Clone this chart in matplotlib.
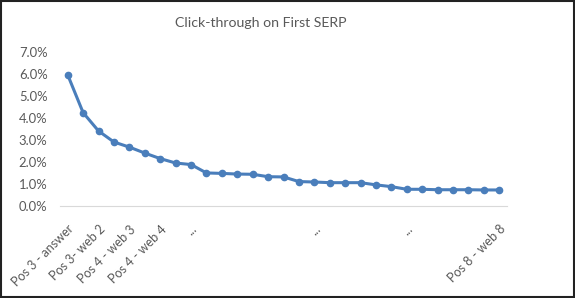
import matplotlib.pyplot as plt
from matplotlib.patches import Rectangle
from matplotlib.ticker import FuncFormatter

# click-through rate per result slot (fraction)
ctr = [0.0595, 0.0424, 0.0341, 0.0291, 0.0268, 0.0241, 0.0216, 0.0196, 0.0189,
       0.0151, 0.0149, 0.0146, 0.0145, 0.0134, 0.0133, 0.0112, 0.0110, 0.0107,
       0.0107, 0.0107, 0.0097, 0.0089, 0.0077, 0.0077, 0.0075, 0.0075, 0.0075,
       0.0074, 0.0074]

etiketler = [""] * len(ctr)
etiketler[0] = "Pos 3 - answer"
etiketler[2] = "Pos 3- web 2"
etiketler[4] = "Pos 4 - web 3"
etiketler[6] = "Pos 4 - web 4"
etiketler[8] = "..."
etiketler[16] = "..."
etiketler[22] = "..."
etiketler[28] = "Pos 8 - web 8"

y_ticks = [0, 0.01, 0.02, 0.03, 0.04, 0.05, 0.06, 0.07]

plt.rcParams['font.family'] = ['Lato', 'DejaVu Sans']
gri = "#595959"

fig = plt.figure(figsize=(5.75, 2.98), dpi=100)
ax = fig.add_axes([60/575, 1-206.3/298, 447/575, 154.6/298])

x = list(range(len(ctr)))
ax.plot(x, ctr, color="#4A7EBB", linewidth=2.2, marker="o", markersize=4.5)

ax.set_xlim(-0.5, len(ctr) - 0.5)
ax.set_ylim(0, 0.07)
ax.set_yticks(y_ticks)
ax.yaxis.set_major_formatter(FuncFormatter(lambda v, p: f"{v*100:.1f}%"))
ax.set_xticks(x)
ax.set_xticklabels(etiketler, rotation=45, ha="right", rotation_mode="anchor")

for s in ["top", "right", "left"]:
    ax.spines[s].set_visible(False)
ax.spines["bottom"].set_color("#D9D9D9")
ax.tick_params(axis="both", length=0, colors=gri)
ax.tick_params(axis="y", pad=9, labelsize=9.4)
ax.tick_params(axis="x", pad=12, labelsize=9)

fig.text(260.5/575, 1-23/298, "Click-through on First SERP", ha="center",
         va="center", fontsize=10.2, color=gri)

fig.patches.append(Rectangle((0.001, 0.002), 0.997, 0.995, transform=fig.transFigure,
                             fill=False, edgecolor="#222222", linewidth=1.5))

fig.savefig("out.png", dpi=100)
